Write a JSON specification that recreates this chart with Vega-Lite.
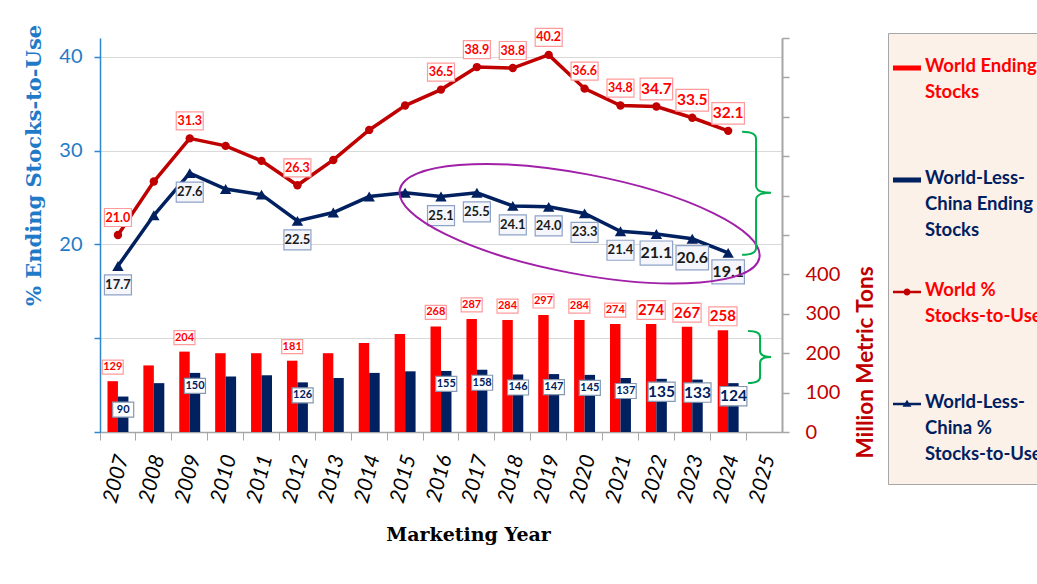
{
  "$schema": "https://vega.github.io/schema/vega-lite/v6.json",
  "width": 682,
  "height": 394,
  "autosize": {"type": "none"},
  "padding": {"left": 100, "top": 38, "right": 255, "bottom": 152},
  "background": "#FFFFFF",
  "config": {"view": {"stroke": null}, "font": "Lato"},
  "data": {"values": [
    {"year": 2007, "world_stocks": 129, "wlc_stocks": 90, "world_stu": 21.0, "wlc_stu": 17.7},
    {"year": 2008, "world_stocks": 169, "wlc_stocks": 124, "world_stu": 26.7, "wlc_stu": 23.1},
    {"year": 2009, "world_stocks": 204, "wlc_stocks": 150, "world_stu": 31.3, "wlc_stu": 27.6},
    {"year": 2010, "world_stocks": 200, "wlc_stocks": 141, "world_stu": 30.5, "wlc_stu": 25.9},
    {"year": 2011, "world_stocks": 200, "wlc_stocks": 144, "world_stu": 28.9, "wlc_stu": 25.3},
    {"year": 2012, "world_stocks": 181, "wlc_stocks": 126, "world_stu": 26.3, "wlc_stu": 22.5},
    {"year": 2013, "world_stocks": 200, "wlc_stocks": 137, "world_stu": 29.0, "wlc_stu": 23.4},
    {"year": 2014, "world_stocks": 226, "wlc_stocks": 150, "world_stu": 32.2, "wlc_stu": 25.1},
    {"year": 2015, "world_stocks": 249, "wlc_stocks": 154, "world_stu": 34.8, "wlc_stu": 25.5},
    {"year": 2016, "world_stocks": 268, "wlc_stocks": 155, "world_stu": 36.5, "wlc_stu": 25.1},
    {"year": 2017, "world_stocks": 287, "wlc_stocks": 158, "world_stu": 38.9, "wlc_stu": 25.5},
    {"year": 2018, "world_stocks": 284, "wlc_stocks": 146, "world_stu": 38.8, "wlc_stu": 24.1},
    {"year": 2019, "world_stocks": 297, "wlc_stocks": 147, "world_stu": 40.2, "wlc_stu": 24.0},
    {"year": 2020, "world_stocks": 284, "wlc_stocks": 145, "world_stu": 36.6, "wlc_stu": 23.3},
    {"year": 2021, "world_stocks": 274, "wlc_stocks": 137, "world_stu": 34.8, "wlc_stu": 21.4},
    {"year": 2022, "world_stocks": 274, "wlc_stocks": 135, "world_stu": 34.7, "wlc_stu": 21.1},
    {"year": 2023, "world_stocks": 267, "wlc_stocks": 133, "world_stu": 33.5, "wlc_stu": 20.6},
    {"year": 2024, "world_stocks": 258, "wlc_stocks": 124, "world_stu": 32.1, "wlc_stu": 19.1}
  ]},
  "encoding": {
    "x": {
      "field": "year",
      "type": "ordinal",
      "scale": {"domain": [2007,2008,2009,2010,2011,2012,2013,2014,2015,2016,2017,2018,2019,2020,2021,2022,2023,2024,2025], "paddingInner": 0, "paddingOuter": 0},
      "axis": {
        "bandPosition": 0,
        "labelOffset": 5,
        "labelAngle": -75,
        "labelFont": "Lato",
        "labelFontSize": 21,
        "labelFontStyle": "italic",
        "labelColor": "#000000",
        "labelPadding": 15,
        "domainColor": "#A6A6A6",
        "domainWidth": 1.5,
        "tickColor": "#A6A6A6",
        "tickSize": 8,
        "grid": false,
        "title": "Marketing Year",
        "titleFont": "DejaVu Serif",
        "titleFontSize": 19,
        "titleFontWeight": "bold",
        "titleColor": "#000000",
        "titleX": 368,
        "titleY": 102,
        "titleAlign": "center",
        "titleBaseline": "middle"
      }
    }
  },
  "layer": [
    {
      "mark": {"type": "point", "opacity": 0},
      "encoding": {
        "y": {
          "field": "world_stocks",
          "type": "quantitative",
          "scale": {"domain": [0, 1000], "nice": false},
          "axis": {
            "orient": "right",
            "values": [500, 600, 700, 800, 900, 1000],
            "labels": false,
            "domain": false,
            "grid": false,
            "tickColor": "#A6A6A6",
            "tickWidth": 1.5,
            "tickSize": 7,
            "title": null
          }
        }
      }
    },
    {
      "layer": [
        {
          "transform": [{"fold": ["world_stocks", "wlc_stocks"], "as": ["series", "val"]}],
          "mark": {"type": "bar"},
          "encoding": {
            "y": {
              "field": "val",
              "type": "quantitative",
              "scale": {"domain": [0, 1000], "nice": false},
              "axis": {
                "orient": "right",
                "values": [0,100,200,300,400],
                "labelOverlap": false,
                "grid": false,
                "domainColor": "#A6A6A6",
                "domainWidth": 2,
                "tickColor": "#A6A6A6",
                "tickWidth": 1.5,
                "tickSize": 7,
                "labelColor": "#C00000",
                "labelFont": "Lato",
                "labelFontSize": 20,
                "labelPadding": 16,
                "title": "Million Metric Tons",
                "titleColor": "#C00000",
                "titleFont": "Lato",
                "titleFontSize": 22.5,
                "titleFontWeight": "bold",
                "titleAngle": -90,
                "titleX": 83,
                "titleY": 324,
                "titleAlign": "center",
                "titleBaseline": "middle"
              }
            },
            "xOffset": {"field": "series", "type": "nominal", "scale": {"domain": ["world_stocks", "wlc_stocks"], "paddingInner": 0, "paddingOuter": 0.714}},
            "color": {
              "field": "series",
              "type": "nominal",
              "scale": {"domain": ["world_stocks", "wlc_stocks", "world_stu", "wlc_stu"], "range": ["#FF0000", "#002060", "#C00000", "#002060"]},
              "legend": {
                "orient": "none",
                "legendX": 788,
                "legendY": -5,
                "direction": "vertical",
                "title": null,
                "fillColor": "#FCF1E8",
                "strokeColor": "#A6A6A6",
                "padding": 20,
                "labelFont": "Lato",
                "labelFontSize": 18.5,
                "labelFontWeight": "bold",
                "labelLimit": 400,
                "labelBaseline": "top",
                "labelOffset": 3,
                "symbolOffset": -16,
                "symbolSize": 784,
                "symbolType": "square",
                "gridAlign": "all",
                "rowPadding": 37,
                "labelExpr": "datum.value == 'world_stocks' ? ['World Ending', 'Stocks'] : datum.value == 'wlc_stocks' ? ['World-Less-', 'China Ending', 'Stocks'] : datum.value == 'world_stu' ? ['World %', 'Stocks-to-Use'] : ['World-Less-', 'China %', 'Stocks-to-Use']",
                "encode": {
                  "symbols": {"update": {
                    "shape": {"signal": "datum.value == 'world_stocks' || datum.value == 'wlc_stocks' ? 'M-1,-0.18H1V0.18H-1Z' : datum.value == 'world_stu' ? 'M-1,-0.09H1V0.09H-1Z M-0.25,0C-0.25,-0.138,-0.138,-0.25,0,-0.25C0.138,-0.25,0.25,-0.138,0.25,0C0.25,0.138,0.138,0.25,0,0.25C-0.138,0.25,-0.25,0.138,-0.25,0Z' : 'M-1,-0.09H1V0.09H-1Z M0,-0.3L0.32,0.2H-0.32Z'"},
                    "stroke": {"value": "transparent"},
                    "opacity": {"value": 1}
                  }},
                  "labels": {"update": {
                    "fill": {"signal": "datum.value == 'world_stocks' || datum.value == 'world_stu' ? '#FF0000' : '#002060'"},
                    "lineHeight": {"value": 26},
                    "dy": {"value": -11}
                  }}
                }
              }
            }
          }
        },
        {
          "transform": [{"filter": "indexof([2007,2009,2012,2016,2017,2018,2019,2020,2021,2022,2023,2024], datum.year) >= 0"}],
          "mark": {"type": "point", "shape": "M-10.5,-7H10.5V7H-10.5Z", "filled": true, "fill": "#FFFFFF", "stroke": "#FF9B9B", "strokeWidth": 1.2, "opacity": 1, "xOffset": -5.24, "yOffset": -14},
          "encoding": {
            "y": {"field": "world_stocks", "type": "quantitative"},
            "size": {"condition": {"test": "datum.year >= 2022", "value": 7.2}, "value": 4}
          }
        },
        {
          "transform": [{"filter": "indexof([2007,2009,2012,2016,2017,2018,2019,2020,2021,2022,2023,2024], datum.year) >= 0"}],
          "mark": {"type": "text", "font": "Lato", "fontWeight": "bold", "color": "#FF0000", "xOffset": -5.24, "yOffset": -14, "baseline": "middle", "align": "center"},
          "encoding": {
            "y": {"field": "world_stocks", "type": "quantitative"},
            "text": {"field": "world_stocks", "type": "quantitative", "format": "d"},
            "size": {"condition": {"test": "datum.year >= 2022", "value": 15}, "value": 11}
          }
        },
        {
          "transform": [{"filter": "indexof([2007,2009,2012,2016,2017,2018,2019,2020,2021,2022,2023,2024], datum.year) >= 0"}],
          "mark": {"type": "point", "shape": "M-10.5,-7.5H10.5V7.5H-10.5Z", "filled": true, "fill": "#FFFFFF", "stroke": "#8497B0", "strokeWidth": 1.2, "opacity": 1, "xOffset": 5.24, "yOffset": 13},
          "encoding": {
            "y": {"field": "wlc_stocks", "type": "quantitative"},
            "size": {"condition": {"test": "datum.year >= 2022", "value": 6.6}, "value": 4}
          }
        },
        {
          "transform": [{"filter": "indexof([2007,2009,2012,2016,2017,2018,2019,2020,2021,2022,2023,2024], datum.year) >= 0"}],
          "mark": {"type": "text", "font": "Lato", "fontWeight": "bold", "color": "#002060", "xOffset": 5.24, "yOffset": 13, "baseline": "middle", "align": "center"},
          "encoding": {
            "y": {"field": "wlc_stocks", "type": "quantitative"},
            "text": {"field": "wlc_stocks", "type": "quantitative", "format": "d"},
            "size": {"condition": {"test": "datum.year >= 2022", "value": 15.5}, "value": 11}
          }
        }
      ]
    },
    {
      "layer": [
        {
          "mark": {"type": "line", "color": "#C00000", "strokeWidth": 3.5},
          "encoding": {
            "y": {
              "field": "world_stu",
              "type": "quantitative",
              "scale": {"domain": [0, 42], "nice": false},
              "axis": {
                "orient": "left",
                "values": [0, 10, 20, 30, 40],
                "labelExpr": "datum.value >= 20 ? datum.label : ''",
                "grid": true,
                "gridColor": "#D9D9D9",
                "gridWidth": 1.2,
                "domainColor": "#2E86D1",
                "domainWidth": 1.5,
                "tickColor": "#2E86D1",
                "tickWidth": 1.5,
                "tickSize": 6,
                "labelColor": "#1F7BC8",
                "labelFont": "Lato",
                "labelFontSize": 20,
                "labelPadding": 12,
                "title": "% Ending Stocks-to-Use",
                "titleFont": "DejaVu Serif",
                "titleFontSize": 21,
                "titleFontWeight": "bold",
                "titleColor": "#1F7BC8",
                "titleAngle": -90,
                "titleX": -66,
                "titleY": 127,
                "titleAlign": "center",
                "titleBaseline": "middle"
              }
            }
          }
        },
        {
          "mark": {"type": "point", "shape": "circle", "filled": true, "color": "#C00000", "size": 70, "opacity": 1},
          "encoding": {"y": {"field": "world_stu", "type": "quantitative"}}
        },
        {
          "mark": {"type": "line", "color": "#002060", "strokeWidth": 3.5},
          "encoding": {"y": {"field": "wlc_stu", "type": "quantitative"}}
        },
        {
          "mark": {"type": "point", "shape": "triangle-up", "filled": true, "color": "#002060", "size": 130, "opacity": 1},
          "encoding": {"y": {"field": "wlc_stu", "type": "quantitative"}}
        },
        {
          "transform": [{"filter": "indexof([2007,2009,2012,2016,2017,2018,2019,2020,2021,2022,2023,2024], datum.year) >= 0"}],
          "mark": {"type": "point", "shape": "M-13.5,-9H13.5V9H-13.5Z", "filled": true, "fill": "#FFFFFF", "stroke": "#FF9B9B", "strokeWidth": 1.2, "opacity": 1, "yOffset": -17.5},
          "encoding": {
            "y": {"field": "world_stu", "type": "quantitative"},
            "size": {"condition": {"test": "datum.year >= 2022", "value": 5.8}, "value": 4}
          }
        },
        {
          "transform": [{"filter": "indexof([2007,2009,2012,2016,2017,2018,2019,2020,2021,2022,2023,2024], datum.year) >= 0"}],
          "mark": {"type": "text", "font": "Lato", "fontWeight": "bold", "color": "#FF0000", "yOffset": -17.5, "baseline": "middle", "align": "center"},
          "encoding": {
            "y": {"field": "world_stu", "type": "quantitative"},
            "text": {"field": "world_stu", "type": "quantitative", "format": ".1f"},
            "size": {"condition": {"test": "datum.year >= 2022", "value": 15.5}, "value": 12.5}
          }
        },
        {
          "transform": [{"filter": "indexof([2007,2009,2012,2016,2017,2018,2019,2020,2021,2022,2023,2024], datum.year) >= 0"}],
          "mark": {"type": "point", "shape": "M-13.5,-10H13.5V10H-13.5Z", "filled": true, "fill": "#F4F6FB", "stroke": "#8EA2C8", "strokeWidth": 1.2, "opacity": 1, "yOffset": 19},
          "encoding": {
            "y": {"field": "wlc_stu", "type": "quantitative"},
            "size": {"condition": {"test": "datum.year >= 2022", "value": 5.8}, "value": 4}
          }
        },
        {
          "transform": [{"filter": "indexof([2007,2009,2012,2016,2017,2018,2019,2020,2021,2022,2023,2024], datum.year) >= 0"}],
          "mark": {"type": "text", "font": "Lato", "fontWeight": "bold", "color": "#1A1A1A", "yOffset": 19, "baseline": "middle", "align": "center"},
          "encoding": {
            "y": {"field": "wlc_stu", "type": "quantitative"},
            "text": {"field": "wlc_stu", "type": "quantitative", "format": ".1f"},
            "size": {"condition": {"test": "datum.year >= 2022", "value": 16}, "value": 13}
          }
        },
        {
          "data": {"values": [{"year": 2020, "value": 22.2}]},
          "mark": {"type": "point", "shape": "M-1.83,0C-1.83,-0.276,-1.01,-0.5,0,-0.5C1.01,-0.5,1.83,-0.276,1.83,0C1.83,0.276,1.01,0.5,0,0.5C-1.01,0.5,-1.83,0.276,-1.83,0Z", "filled": false, "stroke": "#A020A8", "strokeWidth": 2, "opacity": 1, "size": 40000, "angle": 10.7, "xOffset": -5},
          "encoding": {"y": {"field": "value", "type": "quantitative"}}
        },
        {
          "data": {"values": [{"year": 2025, "value": 25.5}]},
          "mark": {"type": "point", "shape": "M-14,-61Q0,-61,0,-54L0,-7Q0,0,15,0Q0,0,0,7L0,55Q0,62,-14,62", "filled": false, "stroke": "#00B050", "strokeWidth": 2, "opacity": 1, "size": 4, "xOffset": -8},
          "encoding": {"y": {"field": "value", "type": "quantitative"}}
        },
        {
          "data": {"values": [{"year": 2025, "value": 8.0}]},
          "mark": {"type": "point", "shape": "M-12,-26Q0,-26,0,-20L0,-6Q0,0,11,0Q0,0,0,6L0,20Q0,26,-12,26", "filled": false, "stroke": "#00B050", "strokeWidth": 2, "opacity": 1, "size": 4, "xOffset": -4},
          "encoding": {"y": {"field": "value", "type": "quantitative"}}
        }
      ]
    }
  ],
  "resolve": {"scale": {"y": "independent"}}
}
